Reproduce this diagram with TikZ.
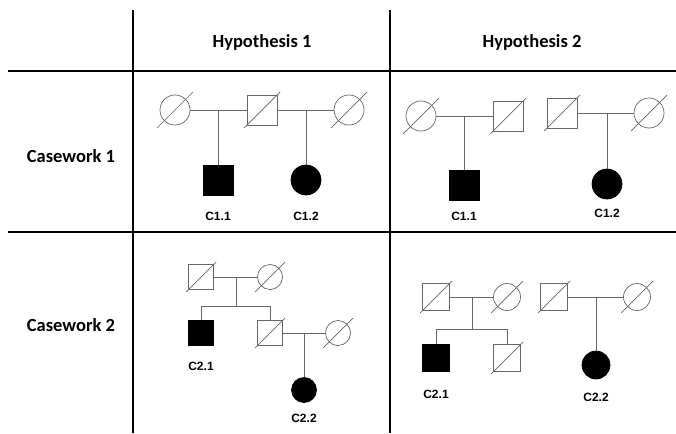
\documentclass[tikz,border=0pt]{standalone}
\usepackage{fontspec}
\setmainfont{Carlito}
\newfontfamily\lblfont{Liberation Sans}
\begin{document}
\begin{tikzpicture}[x=1pt,y=-1pt,
  grid/.style={line width=1.2pt,black},
  ped/.style={line width=0.7pt,draw=black!60},
  slash/.style={line width=0.7pt,draw=black!60},
  msym/.style={rectangle,draw=black!60,line width=0.7pt,minimum size=#1,inner sep=0pt},
  fsym/.style={circle,draw=black!60,line width=0.7pt,minimum size=#1,inner sep=0pt},
  aff/.style={fill=black,draw=black},
  head/.style={font=\fontsize{18.5}{22}\selectfont\bfseries},
  lbl/.style={font=\lblfont\fontsize{12}{14}\selectfont\bfseries}]
\useasboundingbox (0,0) rectangle (676,433);
% grid
\coordinate (v1t) at (133,10); \coordinate (v1b) at (133,433);
\coordinate (v2t) at (390,10); \coordinate (v2b) at (390,433);
\coordinate (h1l) at (8,71); \coordinate (h1r) at (676,71);
\coordinate (h2l) at (8,232); \coordinate (h2r) at (676,232);
\draw[grid] (v1t) -- (v1b);
\draw[grid] (v2t) -- (v2b);
\draw[grid] (h1l) -- (h1r);
\draw[grid] (h2l) -- (h2r);
% headers
\node[head] (hyp1) at (262,42) {Hypothesis 1};
\node[head] (hyp2) at (532,42) {Hypothesis 2};
\node[head] (cw1) at (71,156) {Casework 1};
\node[head] (cw2) at (71,325) {Casework 2};

% ---- Casework 1, Hypothesis 1
\node[fsym=30] (a1) at (175,110) {};
\node[msym=30] (a2) at (262,110) {};
\node[fsym=30] (a3) at (349,110) {};
\node[msym=30,aff] (a4) at (218,180) {};
\node[fsym=30,aff] (a5) at (306,180) {};
\node[lbl] (la4) at (218,216) {C1.1};
\node[lbl] (la5) at (306,216) {C1.2};
\coordinate (a12) at (218,110);
\coordinate (a23) at (306,110);
\draw[ped] (a1) -- (a2);
\draw[ped] (a2) -- (a3);
\draw[ped] (a12) -- (a4.north);
\draw[ped] (a23) -- (a5.north);

% ---- Casework 1, Hypothesis 2
\node[fsym=30] (b1) at (421,116) {};
\node[msym=30] (b2) at (508,116) {};
\node[msym=30,aff] (b3) at (464,185) {};
\node[lbl] (lb3) at (464,216) {C1.1};
\coordinate (b12) at (464,116);
\draw[ped] (b1) -- (b2);
\draw[ped] (b12) -- (b3.north);
\node[msym=30] (b4) at (562,113) {};
\node[fsym=30] (b5) at (649,113) {};
\node[fsym=30,aff] (b6) at (607,184) {};
\node[lbl] (lb6) at (607,213) {C1.2};
\coordinate (b45) at (607,113);
\draw[ped] (b4) -- (b5);
\draw[ped] (b45) -- (b6.north);

% ---- Casework 2, Hypothesis 1
\node[msym=25] (c1) at (201,277) {};
\node[fsym=25] (c2) at (270,277) {};
\coordinate (c12) at (236,277);
\coordinate (c12s) at (236,306);
\coordinate (cs1) at (201,306);
\coordinate (cs2) at (270,306);
\node[msym=25,aff] (c3) at (201,333) {};
\node[msym=25] (c4) at (270,333) {};
\node[fsym=25] (c5) at (338,333) {};
\coordinate (c45) at (304,333);
\node[fsym=25,aff] (c6) at (304,390) {};
\node[lbl] (lc3) at (201,366) {C2.1};
\node[lbl] (lc6) at (304,418) {C2.2};
\draw[ped] (c1) -- (c2);
\draw[ped] (c12) -- (c12s);
\draw[ped] (cs1) -- (cs2);
\draw[ped] (cs1) -- (c3.north);
\draw[ped] (cs2) -- (c4.north);
\draw[ped] (c4) -- (c5);
\draw[ped] (c45) -- (c6.north);

% ---- Casework 2, Hypothesis 2
\node[msym=27] (d1) at (436,297) {};
\node[fsym=27] (d2) at (507,297) {};
\coordinate (d12) at (472,297);
\coordinate (d12s) at (472,329);
\coordinate (ds1) at (436,329);
\coordinate (ds2) at (507,329);
\node[msym=27,aff] (d3) at (436,358) {};
\node[msym=27] (d4) at (507,358) {};
\node[lbl] (ld3) at (436,394) {C2.1};
\draw[ped] (d1) -- (d2);
\draw[ped] (d12) -- (d12s);
\draw[ped] (ds1) -- (ds2);
\draw[ped] (ds1) -- (d3.north);
\draw[ped] (ds2) -- (d4.north);
\node[msym=27] (d5) at (554,297) {};
\node[fsym=27] (d6) at (637,297) {};
\coordinate (d56) at (596,297);
\node[fsym=28,aff] (d7) at (596,365) {};
\node[lbl] (ld7) at (596,397) {C2.2};
\draw[ped] (d5) -- (d6);
\draw[ped] (d56) -- (d7.north);

% deceased slashes
\foreach \n in {a1,a2,a3,b1,b2,b4,b5}
  \draw[slash] (\n.center) ++(-18,18) -- ++(36,-36);
\foreach \n in {c1,c2,c4,c5}
  \draw[slash] (\n.center) ++(-15,15) -- ++(30,-30);
\foreach \n in {d1,d2,d4,d5,d6}
  \draw[slash] (\n.center) ++(-16,16) -- ++(32,-32);
\end{tikzpicture}
\end{document}
